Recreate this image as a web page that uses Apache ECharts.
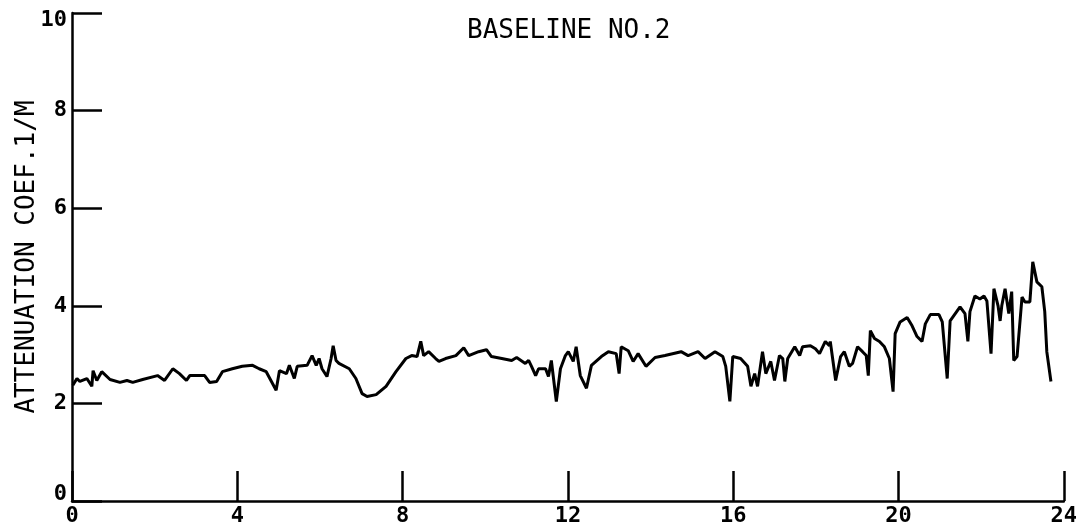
<!DOCTYPE html>
<html>
<head>
<meta charset="utf-8">
<script src="https://cdn.jsdelivr.net/npm/echarts@6/dist/echarts.min.js"></script>
<style>
  html, body { margin: 0; padding: 0; background: #fff; }
  #chart { width: 1080px; height: 527px; }
</style>
</head>
<body>
<div id="chart"></div>
<script>
    // elapsed time (hours) and attenuation coefficient (1/m)
    var hours = [
        0.02,0.12,0.19,0.36,0.48,0.51,0.60,0.72,0.92,1.16,1.33,1.47,1.71,2.07,2.24,2.44,2.60,2.77,2.85,3.21,
        3.33,3.50,3.64,3.88,4.12,4.37,4.53,4.70,4.94,5.02,5.19,5.26,5.38,5.45,5.69,5.81,
        5.91,5.98,6.05,6.17,6.27,6.32,6.39,6.46,6.71,6.87,7.02,7.14,7.36,7.60,7.84,8.08,8.22,8.35,8.44,8.51,
        8.63,8.80,8.88,9.04,9.29,9.48,9.60,9.84,10.03,10.15,10.40,10.64,10.76,10.97,11.05,11.12,11.22,11.29,
        11.46,11.53,11.60,11.72,11.82,11.94,
        12.01,12.13,12.20,12.30,12.45,12.57,12.81,12.98,13.17,13.24,13.29,13.46,13.58,13.70,13.89,14.11,14.35,
        14.74,14.91,15.15,15.32,15.56,15.75,15.82,15.92,15.99,16.18,16.35,16.43,16.52,16.59,16.71,16.79,16.91,
        17.00,17.12,17.20,17.25,17.32,17.49,17.61,17.68,17.87,17.99,
        18.09,18.23,18.33,18.35,18.48,18.60,18.69,18.81,18.89,19.01,19.13,19.22,19.27,19.32,19.42,19.54,19.66,
        19.78,19.87,19.92,20.04,20.21,20.33,20.45,20.57,20.65,20.77,20.98,21.06,21.18,21.25,21.49,21.61,21.68,
        21.73,21.85,21.97,22.07,22.14,22.24,22.31,22.41,22.46,22.50,22.58,22.67,22.74,22.79,22.87,22.99,23.06,
        23.18,23.25,23.35,23.47,23.54,23.59,23.69
    ];
    var atten = [
        2.37,2.51,2.45,2.51,2.35,2.67,2.47,2.65,2.49,2.43,2.47,2.43,2.49,2.57,2.47,2.71,2.61,2.47,2.57,2.57,
        2.43,2.45,2.65,2.71,2.76,2.78,2.71,2.65,2.27,2.67,2.61,2.78,2.51,2.76,2.78,2.98,
        2.78,2.92,2.71,2.55,2.92,3.18,2.88,2.82,2.71,2.51,2.20,2.14,2.18,2.35,2.65,2.92,2.98,2.96,3.27,2.98,
        3.06,2.92,2.86,2.92,2.98,3.14,2.98,3.06,3.10,2.96,2.92,2.88,2.94,2.82,2.88,2.76,2.57,2.71,
        2.71,2.55,2.88,2.04,2.71,2.98,
        3.06,2.86,3.16,2.57,2.31,2.78,2.96,3.06,3.02,2.61,3.16,3.08,2.86,3.02,2.76,2.94,2.98,
        3.06,2.98,3.06,2.92,3.06,2.96,2.76,2.04,2.96,2.92,2.76,2.35,2.61,2.35,3.06,2.61,2.86,
        2.47,2.98,2.92,2.45,2.92,3.16,2.98,3.16,3.18,3.12,
        3.02,3.27,3.18,3.27,2.47,2.96,3.06,2.76,2.82,3.16,3.06,2.98,2.57,3.49,3.33,3.27,3.16,
        2.92,2.24,3.43,3.67,3.76,3.59,3.37,3.27,3.63,3.82,3.82,3.67,2.51,3.69,3.98,3.84,3.27,
        3.88,4.20,4.14,4.20,4.10,3.02,4.35,4.00,3.69,4.00,4.35,3.84,4.29,2.88,2.96,4.18,4.08,
        4.08,4.90,4.49,4.39,3.88,3.06,2.45
    ];
    var xMin = 0, xMax = 24, xStep = 4;
    var yMin = 0, yMax = 10, yStep = 2;

    var font = 'DejaVu Sans Mono';

    function buildData(){
        var pts = [];
        for (var i = 0; i < hours.length; i++) {
            pts.push([hours[i], atten[i]]);
        }
        return pts;
    }

    var chart = echarts.init(document.getElementById('chart'));
    var option = {
        animation: false,
        backgroundColor: '#fff',
        title: {
            text: 'BASELINE NO.2',
            left: 462,
            top: 13,
            textStyle: { fontFamily: font, fontSize: 26, fontWeight: 'normal', color: '#000' }
        },
        grid: { left: 72, right: 13, top: 13, bottom: 24 },
        xAxis: {
            type: 'value',
            min: xMin,
            max: xMax,
            interval: xStep,
            axisLine: { lineStyle: { color: '#000', width: 2.5 } },
            axisTick: { inside: true, length: 30, lineStyle: { color: '#000', width: 2.5 } },
            axisLabel: { color: '#000', fontFamily: font, fontSize: 22, fontWeight: 'bold', margin: 4 },
            splitLine: { show: false }
        },
        yAxis: {
            type: 'value',
            min: yMin,
            max: yMax,
            interval: yStep,
            name: 'ATTENUATION COEF.1/M',
            nameLocation: 'middle',
            nameRotate: 90,
            nameGap: 32,
            nameMoveOverlap: false,
            nameTextStyle: { fontFamily: font, fontSize: 26, color: '#000' },
            axisLine: { show: true, lineStyle: { color: '#000', width: 2.5 } },
            axisTick: { show: true, inside: true, length: 30, lineStyle: { color: '#000', width: 2.5 } },
            axisLabel: {
                color: '#000', fontFamily: font, fontSize: 22, fontWeight: 'bold', margin: 5,
                formatter: function(v){
                    if (v === yMin) return '{lo|' + v + '}';
                    if (v === yMax) return '{hi|' + v + '}';
                    return v + '';
                },
                rich: {
                    lo: { fontFamily: font, fontSize: 22, fontWeight: 'bold', color: '#000', padding: [0, 0, 14, 0] },
                    hi: { fontFamily: font, fontSize: 22, fontWeight: 'bold', color: '#000', padding: [14, 0, 0, 0] }
                }
            },
            splitLine: { show: false }
        },
        series: [{
            type: 'line',
            data: buildData(),
            showSymbol: false,
            lineStyle: { color: '#000', width: 3 },
            z: 3
        }]
    };
    chart.setOption(option);
</script>
</body>
</html>
